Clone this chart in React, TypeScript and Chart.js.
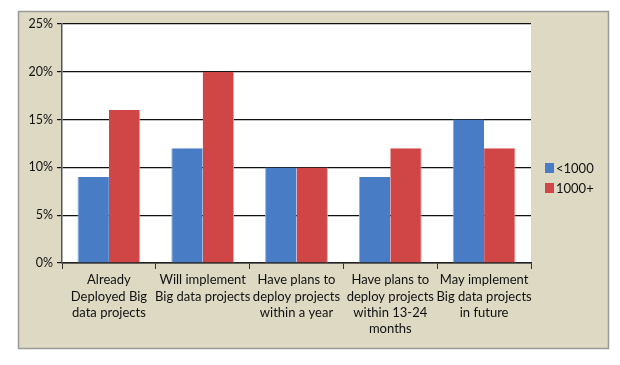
import React, { useEffect, useRef } from "react";
import { Chart, registerables } from "chart.js";

Chart.register(...registerables);

const categories: string[][] = [
  ["Already", "Deployed Big", "data projects"],
  ["Will implement", "Big data projects"],
  ["Have plans to", "deploy projects", "within a year"],
  ["Have plans to", "deploy projects", "within 13-24", "months"],
  ["May implement", "Big data projects", "in future"],
];
const seriesNames = ["<1000", "1000+"];
const smallCompanies = [9, 12, 10, 9, 15];
const largeCompanies = [16, 20, 10, 12, 12];
const seriesColors = ["#487DC6", "#D04545"];

const FONT = "Lato, 'Open Sans', sans-serif";

const framePlugin = {
  id: "frame",
  beforeDraw(chart: any) {
    const { ctx, chartArea } = chart;
    ctx.save();
    ctx.fillStyle = "#ffffff";
    ctx.fillRect(0, 0, chart.width, chart.height);
    ctx.fillStyle = "#DDD9C3";
    ctx.fillRect(10, 3, 591, 338);
    ctx.strokeStyle = "#9a9a9a";
    ctx.lineWidth = 1.5;
    ctx.strokeRect(10.5, 3.5, 590, 337);
    ctx.fillStyle = "#ffffff";
    ctx.fillRect(chartArea.left, chartArea.top, chartArea.right - chartArea.left, chartArea.bottom - chartArea.top);
    ctx.restore();
  },
  afterDraw(chart: any) {
    const { ctx } = chart;
    ctx.save();
    ctx.font = `13px ${FONT}`;
    ctx.textBaseline = "middle";
    seriesNames.forEach((name, i) => {
      const y = 160 + i * 20;
      ctx.fillStyle = seriesColors[i];
      ctx.fillRect(537, y - 5, 9, 10);
      ctx.fillStyle = "#111";
      ctx.fillText(name, 548, y + 1);
    });
    ctx.restore();
  },
};

export default function App() {
  const ref = useRef<HTMLCanvasElement>(null);
  useEffect(() => {
    if (!ref.current) return;
    const chart = new Chart(ref.current, {
      type: "bar",
      data: {
        labels: categories as any,
        datasets: [
          {
            label: seriesNames[0],
            data: smallCompanies,
            backgroundColor: seriesColors[0],
            borderColor: "#8fb0e0",
            borderWidth: { left: 1, right: 0, top: 0, bottom: 0 } as any,
            categoryPercentage: 0.67,
            barPercentage: 1.0,
          },
          {
            label: seriesNames[1],
            data: largeCompanies,
            backgroundColor: seriesColors[1],
            borderColor: "#eea0a0",
            borderWidth: { left: 0, right: 1, top: 0, bottom: 0 } as any,
            categoryPercentage: 0.67,
            barPercentage: 1.0,
          },
        ],
      },
      options: {
        animation: false,
        responsive: false,
        maintainAspectRatio: false,
        layout: { padding: { left: 10, top: 16, right: 89, bottom: 16 } },
        plugins: {
          legend: { display: false },
          tooltip: { enabled: false },
        },
        scales: {
          x: {
            afterFit(scale: any) {
              scale.height = 86;
            },
            grid: {
              offset: true,
              drawOnChartArea: false,
              drawTicks: true,
              tickLength: 6,
              color: "#333",
            },
            border: { display: true, color: "#222", width: 1.5 },
            ticks: {
              color: "#111",
              font: { family: FONT, size: 13, lineHeight: 1.25 },
              padding: 3,
              maxRotation: 0,
              autoSkip: false,
            },
          },
          y: {
            min: 0,
            max: 25,
            afterFit(scale: any) {
              scale.width = 44;
            },
            grid: {
              color: "#111",
              lineWidth: 1.2,
              tickLength: 5,
              drawTicks: true,
            },
            border: { display: true, color: "#555", width: 1.5 },
            ticks: {
              stepSize: 5,
              color: "#111",
              font: { family: FONT, size: 12.5 },
              padding: 4,
              callback: (v: any) => `${v}%`,
            },
          },
        },
      },
      plugins: [framePlugin],
    });
    return () => chart.destroy();
  }, []);
  return <canvas ref={ref} width={612} height={357} style={{ display: "block" }} />;
}
